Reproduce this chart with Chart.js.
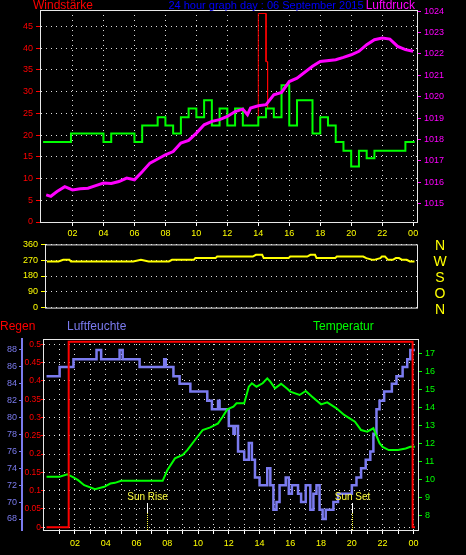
<!DOCTYPE html>
<html>
<head>
<meta charset="utf-8">
<script src="https://cdn.jsdelivr.net/npm/chart.js@4.4.0/dist/chart.umd.min.js"></script>
<style>
  body { margin: 0; background: #000; width: 466px; height: 555px; overflow: hidden; position: relative; }
  canvas { position: absolute; left: 0; }
</style>
</head>
<body>
<canvas id="c1" width="466" height="240" style="top:0"></canvas>
<canvas id="c2" width="466" height="80" style="top:236px"></canvas>
<canvas id="c3" width="466" height="240" style="top:315px"></canvas>
<script>
// wind speed (step, value from start hour)
const windHours = [0.1, 1.9, 4.0, 4.5, 6.0, 6.5, 7.5, 8.0, 8.5, 9.0, 9.5, 10, 10.5, 11, 11.5, 12, 12.5, 13, 14, 14.5, 15, 15.5, 16, 16.5, 17.5, 18, 18.5, 19, 19.5, 20, 20.5, 21, 21.5, 23.5, 24.1];
const windSpeed = [18.4, 20.4, 18.4, 20.4, 18.4, 22.2, 24.1, 22.2, 20.4, 24.1, 26.1, 24.1, 28.0, 22.2, 26.1, 22.2, 26.1, 22.2, 24.1, 26.1, 24.1, 31.5, 22.2, 28.0, 20.4, 24.1, 22.2, 18.4, 16.4, 12.8, 16.4, 14.7, 16.4, 18.4, 18.4];
// gust spike
const gustHours = [14.0, 14.0, 14.5, 14.5, 14.6, 14.6];
const gustSpeed = [24.1, 48.0, 48.0, 36.9, 36.9, 26.1];
// pressure
const pressHours = [0.3, 0.6, 1, 1.5, 2, 2.5, 3, 3.5, 4, 4.5, 5, 5.5, 6, 6.5, 7, 7.5, 8, 8.5, 9, 9.5, 10, 10.5, 11, 11.5, 12, 12.5, 13, 13.3, 13.5, 14, 14.5, 15, 15.5, 16, 16.5, 17, 17.5, 18, 19, 19.5, 20, 20.5, 21, 21.5, 22, 22.5, 23, 23.5, 24];
const pressure = [1015.42, 1015.35, 1015.57, 1015.8, 1015.65, 1015.7, 1015.73, 1015.85, 1015.97, 1015.95, 1016.04, 1016.2, 1016.12, 1016.5, 1016.9, 1017.09, 1017.29, 1017.44, 1017.84, 1017.96, 1018.3, 1018.69, 1018.85, 1018.93, 1019.08, 1019.31, 1019.42, 1019.16, 1019.47, 1019.58, 1019.63, 1020.09, 1020.2, 1020.71, 1020.87, 1021.14, 1021.42, 1021.65, 1021.73, 1021.84, 1021.96, 1022.12, 1022.43, 1022.66, 1022.74, 1022.69, 1022.35, 1022.2, 1022.12];
// wind direction
const dirHours = [0.45, 1.2, 1.5, 1.9, 2.0, 6.0, 6.5, 7.0, 8.3, 8.5, 9.9, 10.0, 11.3, 11.4, 13.7, 13.9, 14.3, 14.4, 16.0, 16.1, 17.2, 17.4, 17.7, 17.8, 19.0, 19.1, 20.8, 21.0, 21.4, 21.5, 21.9, 22.0, 22.2, 22.4, 22.7, 22.9, 23.1, 23.3, 23.6, 23.8, 24.1];
const windDir = [263, 263, 272, 272, 263, 263, 272, 263, 263, 272, 272, 282, 282, 291, 291, 301, 301, 282, 282, 291, 291, 301, 301, 282, 282, 291, 291, 282, 272, 272, 282, 291, 291, 272, 272, 282, 282, 272, 272, 263, 263];
// humidity (step)
const humHours = [0.15, 1.0, 1.9, 3.4, 3.7, 4.9, 5.1, 6.2, 7.8, 7.9, 8.4, 8.8, 9.5, 10.6, 10.9, 11.3, 11.4, 12.0, 12.3, 12.4, 12.6, 13.0, 13.3, 13.5, 13.7, 14.0, 14.5, 14.7, 14.9, 15.1, 15.3, 15.7, 15.9, 16.1, 16.5, 16.7, 17.0, 17.3, 17.5, 17.7, 17.9, 18.1, 18.3, 18.8, 19.1, 20.0, 20.3, 20.6, 20.9, 21.2, 21.4, 21.6, 21.8, 22.1, 22.6, 22.9, 23.3, 23.6, 23.8, 24.1];
const humidity = [84.9, 86.0, 86.9, 88.0, 86.9, 88.0, 86.9, 86.0, 86.9, 86.0, 84.9, 84.0, 83.1, 82.0, 81.0, 82.0, 81.0, 79.0, 78.1, 79.0, 76.0, 75.0, 77.0, 75.0, 72.9, 72.0, 74.0, 72.0, 69.1, 70.0, 72.0, 72.9, 71.0, 72.0, 71.0, 70.0, 72.0, 69.1, 71.0, 72.0, 69.1, 68.0, 69.1, 70.0, 71.0, 72.0, 72.9, 74.0, 75.0, 76.0, 78.1, 81.0, 82.0, 83.1, 84.0, 84.9, 86.0, 86.9, 88.0, 88.0];
// temperature
const tempHours = [0.15, 1.0, 1.5, 1.9, 2.2, 2.6, 3.3, 3.9, 4.3, 4.6, 5.0, 6.0, 7.0, 7.7, 8.0, 8.5, 9.0, 9.3, 9.8, 10.3, 10.8, 11.3, 11.6, 11.9, 12.3, 12.5, 13.0, 13.3, 13.5, 13.8, 14.2, 14.5, 14.7, 15.0, 15.4, 15.8, 16.0, 16.6, 17.0, 17.4, 18.0, 18.4, 19.0, 19.5, 20.2, 20.6, 21.0, 21.4, 21.8, 22.0, 22.4, 23.0, 23.5, 23.8, 24.1];
const temperature = [10.14, 10.14, 10.27, 10.1, 9.95, 9.67, 9.45, 9.58, 9.76, 9.8, 9.91, 9.91, 9.91, 9.91, 10.5, 11.16, 11.35, 11.62, 12.18, 12.73, 12.88, 13.1, 13.47, 13.88, 14.03, 14.22, 14.22, 15.14, 15.33, 15.14, 15.33, 15.6, 15.42, 15.05, 15.3, 15.03, 14.87, 14.68, 14.9, 14.59, 14.16, 14.27, 13.94, 13.57, 13.2, 12.73, 12.64, 12.83, 12.0, 11.8, 11.62, 11.62, 11.71, 11.8, 11.8];
// rain
const rainHours = [0.15, 1.59, 1.59, 23.95, 23.95, 24.1];
const rain = [0, 0, 0.507, 0.507, 0, 0];
const hourTicks = [2, 4, 6, 8, 10, 12, 14, 16, 18, 20, 22, 24];
const sunEvents = [{ label: 'Sun Rise', hour: 6.7 }, { label: 'Sun Set', hour: 20.0 }];

const pts = (xs, ys) => xs.map((x, i) => ({ x, y: ys[i] }));
const hourLabel = (v) => (v % 2 === 0 ? String(v % 24).padStart(2, '0') : '');
const dotted = { color: '#ddd', lineWidth: 1 };
const fixW = (w) => (s) => { s.width = w; };
const fixH = (h) => (s) => { s.height = h; };

// white frame + extra text
const frame = {
  id: 'frame',
  afterDraw(chart, args, opts) {
    const { ctx, chartArea: a } = chart;
    ctx.save();
    ctx.strokeStyle = '#e8e8e8';
    ctx.lineWidth = 1;
    ctx.strokeRect(a.left + 0.5, a.top + 0.5, a.right - a.left, a.bottom - a.top);
    ctx.textBaseline = 'middle';
    (opts.texts || []).forEach(t => {
      ctx.font = t.font || '12px "Liberation Sans", Arial, sans-serif';
      ctx.fillStyle = t.color;
      ctx.textAlign = t.align || 'left';
      ctx.fillText(t.text, t.x, t.y);
    });
    if (opts.sun) {
      const x = chart.scales.x;
      ctx.font = '10px "Liberation Sans", Arial, sans-serif';
      ctx.textAlign = 'center';
      sunEvents.forEach(e => {
        const px = Math.round(x.getPixelForValue(e.hour)) + 0.5;
        ctx.fillStyle = '#ffff40';
        ctx.fillText(e.label, px, a.bottom - 33);
        ctx.strokeStyle = '#fff';
        ctx.beginPath(); ctx.moveTo(px, a.bottom - 27); ctx.lineTo(px, a.bottom - 17); ctx.stroke();
        ctx.strokeStyle = '#ffff40';
        ctx.setLineDash([1, 1]);
        ctx.beginPath(); ctx.moveTo(px, a.bottom - 17); ctx.lineTo(px, a.bottom); ctx.stroke();
        ctx.setLineDash([]);
      });
    }
    ctx.restore();
  }
};

const tickFont = { size: 9, family: '"Liberation Sans", Arial, sans-serif' };
const common = {
  responsive: false,
  animation: false,
  devicePixelRatio: 1,
  elements: { point: { radius: 0 }, line: { tension: 0 } },
};

// panel 1: wind speed + pressure
new Chart(document.getElementById('c1'), {
  type: 'line',
  data: {
    datasets: [
      { data: pts(pressHours, pressure), yAxisID: 'yP', borderColor: '#ff00ff', borderWidth: 3 },
      { data: pts(windHours, windSpeed), yAxisID: 'y', borderColor: '#00ff00', borderWidth: 2, stepped: 'before' },
      { data: pts(gustHours, gustSpeed), yAxisID: 'y', borderColor: '#ff0000', borderWidth: 1 },
    ],
  },
  options: {
    ...common,
    layout: { padding: { top: 10 } },
    plugins: {
      legend: { display: false }, tooltip: { enabled: false },
      frame: { texts: [
        { text: 'Windstärke', x: 33, y: 6, color: '#ff0000' },
        { text: '24 hour graph day : 06 September 2015', x: 266, y: 6, color: '#0000ff', align: 'center', font: '11px "Liberation Sans", Arial, sans-serif' },
        { text: 'Luftdruck', x: 415, y: 6, color: '#ff00ff', align: 'right' },
      ] },
    },
    scales: {
      x: {
        type: 'linear', min: -0.1, max: 24.25,
        afterBuildTicks: (s) => { s.ticks = hourTicks.map(v => ({ value: v })); },
        afterFit: fixH(18),
        ticks: { color: '#ffff00', font: tickFont, callback: hourLabel, autoSkip: false, maxRotation: 0, padding: 2 },
        grid: { ...dotted, tickColor: '#fff', tickLength: 4 },
        border: { dash: [1, 4], color: '#fff' },
      },
      y: {
        min: 0, max: 48.8, afterFit: fixW(40),
        afterBuildTicks: (s) => { s.ticks = [0, 5, 10, 15, 20, 25, 30, 35, 40, 45].map(v => ({ value: v })); },
        ticks: { color: '#ff0000', font: tickFont, padding: 3 },
        grid: { ...dotted, tickColor: '#ff0000', tickLength: 4 },
        border: { dash: [1, 4], color: '#fff' },
      },
      yP: {
        position: 'right', min: 1014.15, max: 1024.05, afterFit: fixW(49),
        afterBuildTicks: (s) => { s.ticks = [1015, 1016, 1017, 1018, 1019, 1020, 1021, 1022, 1023, 1024].map(v => ({ value: v })); },
        ticks: { color: '#ff00ff', font: tickFont, padding: 3, callback: (v) => String(v) },
        grid: { drawOnChartArea: false, tickColor: '#ff00ff', tickLength: 4 },
        border: { color: '#fff' },
      },
    },
  },
  plugins: [frame],
});

// panel 2: wind direction
new Chart(document.getElementById('c2'), {
  type: 'line',
  data: { datasets: [{ data: pts(dirHours, windDir), borderColor: '#ffff00', borderWidth: 2 }] },
  options: {
    ...common,
    layout: { padding: { top: 7, right: 49, bottom: 6 } },
    plugins: {
      legend: { display: false }, tooltip: { enabled: false },
      frame: { texts: ['N', 'W', 'S', 'O', 'N'].map((t, i) => ({
        text: t, x: 440, y: 10 + i * 16, color: '#ffff00', align: 'center', font: '14px "Liberation Sans", Arial, sans-serif' })) },
    },
    scales: {
      x: { type: 'linear', min: 0.33, max: 24.26, display: false },
      y: {
        min: 0, max: 360, afterFit: fixW(45),
        afterBuildTicks: (s) => { s.ticks = [0, 90, 180, 270, 360].map(v => ({ value: v })); },
        ticks: { color: '#ffff00', font: tickFont, padding: 3 },
        grid: { ...dotted, tickColor: '#ffff00', tickLength: 4 },
        border: { dash: [1, 4], color: '#fff' },
      },
    },
  },
  plugins: [frame],
});

// panel 3: rain, humidity, temperature
new Chart(document.getElementById('c3'), {
  type: 'line',
  data: {
    datasets: [
      { data: pts(rainHours, rain), yAxisID: 'yR', borderColor: '#ff0000', borderWidth: 2 },
      { data: pts(tempHours, temperature), yAxisID: 'yT', borderColor: '#00ff00', borderWidth: 2 },
      { data: pts(humHours, humidity), yAxisID: 'yH', borderColor: '#7b7bef', borderWidth: 2.5, stepped: 'before' },
    ],
  },
  options: {
    ...common,
    layout: { padding: { top: 24 } },
    plugins: {
      legend: { display: false }, tooltip: { enabled: false },
      frame: { sun: true, texts: [
        { text: 'Regen', x: 0, y: 12, color: '#ff0000' },
        { text: 'Luftfeuchte', x: 67, y: 12, color: '#7b7bef' },
        { text: 'Temperatur', x: 313, y: 12, color: '#00ff00' },
      ] },
    },
    scales: {
      x: {
        type: 'linear', min: -0.08, max: 24.3,
        afterBuildTicks: (s) => { s.ticks = Array.from({ length: 24 }, (_, i) => ({ value: i + 1 })); },
        afterFit: fixH(25),
        ticks: { color: '#ffff00', font: tickFont, callback: hourLabel, autoSkip: false, maxRotation: 0, padding: 4 },
        grid: { ...dotted, tickColor: '#fff', tickLength: 4 },
        border: { dash: [1, 4], color: '#fff' },
      },
      yR: {
        min: -0.0074, max: 0.5145, afterFit: fixW(21),
        afterBuildTicks: (s) => { s.ticks = [0, 0.05, 0.1, 0.15, 0.2, 0.25, 0.3, 0.35, 0.4, 0.45, 0.5].map(v => ({ value: v })); },
        ticks: { color: '#ff0000', font: { size: 8.5, family: tickFont.family }, padding: 0, callback: (v) => String(+v.toFixed(2)) },
        grid: { ...dotted, tickColor: '#ff0000', tickLength: 2 },
        border: { dash: [1, 4], color: '#fff' },
      },
      yH: {
        min: 66.7, max: 89.3, afterFit: fixW(22),
        afterBuildTicks: (s) => { s.ticks = [68, 70, 72, 74, 76, 78, 80, 82, 84, 86, 88].map(v => ({ value: v })); },
        ticks: { color: '#7b7bef', font: tickFont, padding: 2 },
        grid: { drawOnChartArea: false, tickColor: '#7b7bef', tickLength: 3 },
        border: { color: '#7b7bef', width: 2 },
      },
      yT: {
        position: 'right', min: 7.18, max: 17.79, afterFit: fixW(48),
        afterBuildTicks: (s) => { s.ticks = [8, 9, 10, 11, 12, 13, 14, 15, 16, 17].map(v => ({ value: v })); },
        ticks: { color: '#00ff00', font: tickFont, padding: 3 },
        grid: { drawOnChartArea: false, tickColor: '#00ff00', tickLength: 4 },
        border: { color: '#00ff00' },
      },
    },
  },
  plugins: [frame],
});
</script>
</body>
</html>
